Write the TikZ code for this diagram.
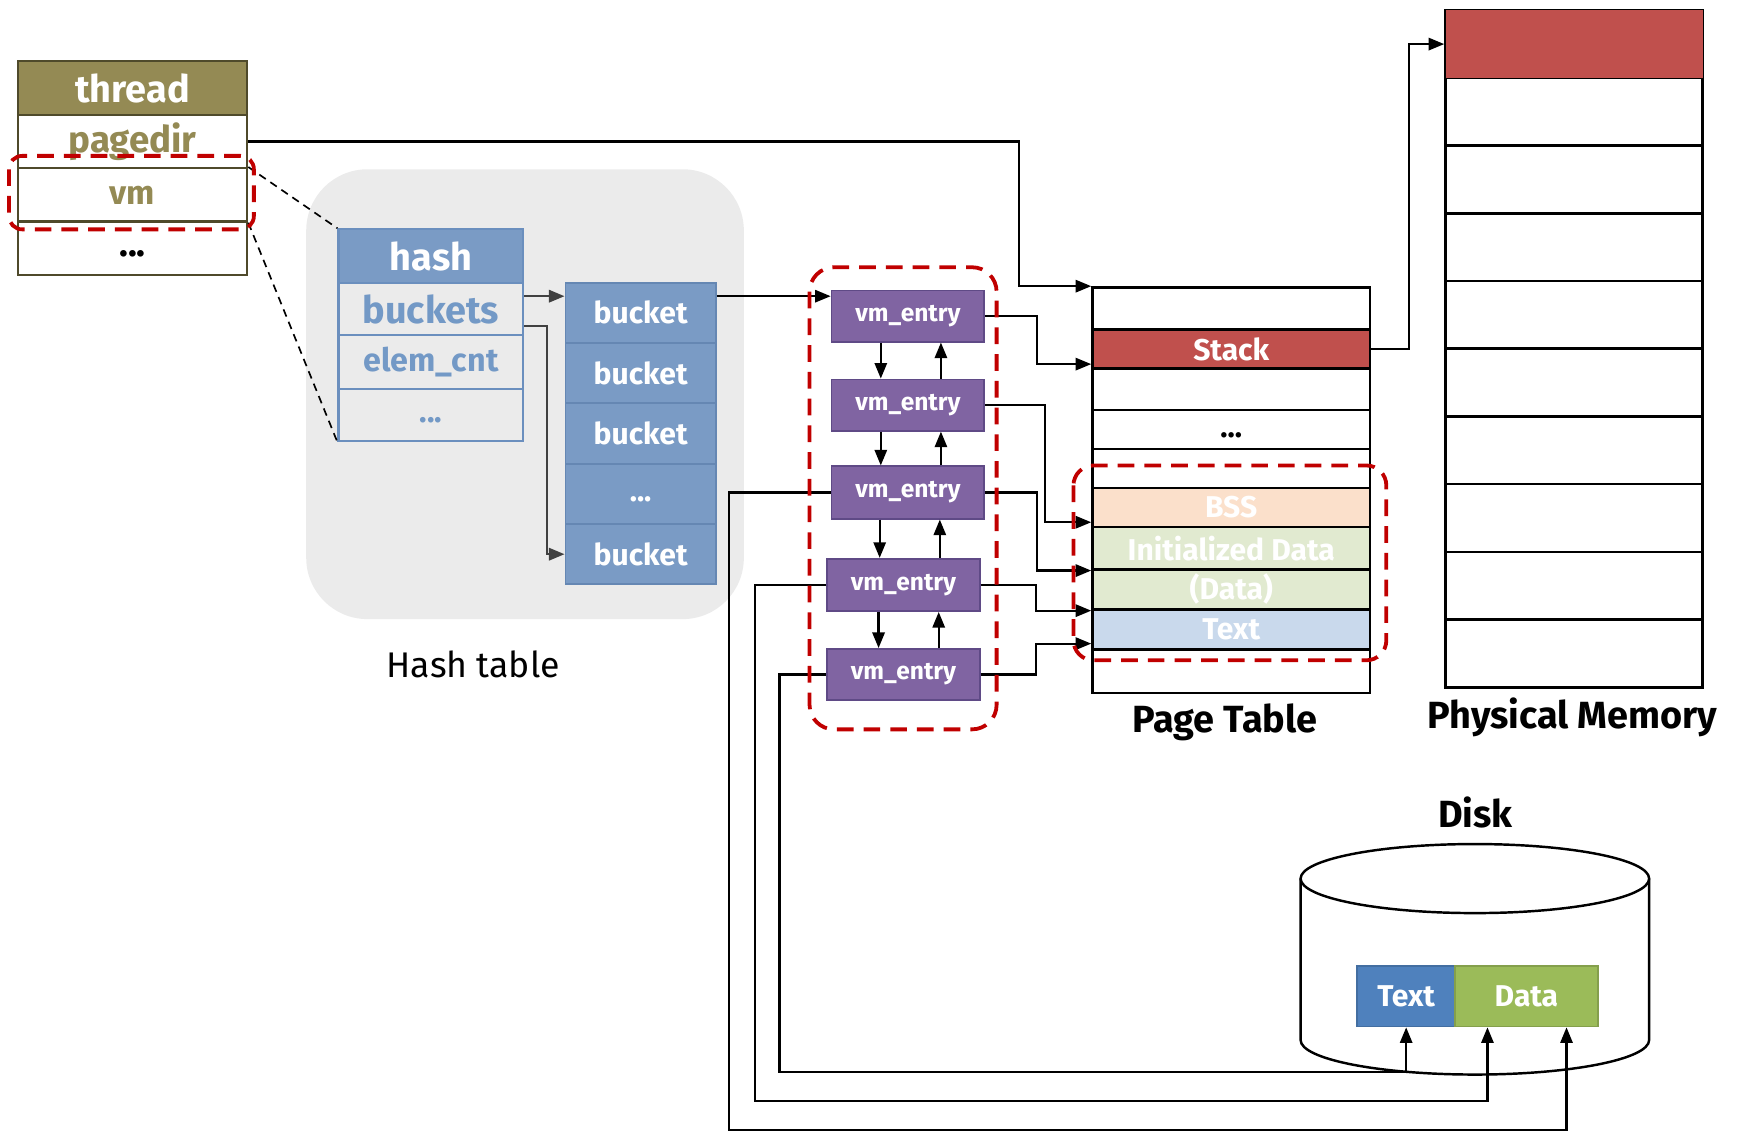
\documentclass[tikz,border=0pt]{standalone}
\usepackage{fontspec}
\setmainfont{Fira Sans}
\usetikzlibrary{arrows.meta}
\definecolor{thrOlive}{HTML}{948A54}
\definecolor{thrEdge}{HTML}{4F4A2B}
\definecolor{hashFill}{HTML}{7A9BC5}
\definecolor{hashEdge}{HTML}{6B8FBE}
\definecolor{hashInk}{HTML}{7399C6}
\definecolor{bucketEdge}{HTML}{6587B3}
\definecolor{vmFill}{HTML}{8064A2}
\definecolor{vmEdge}{HTML}{5F4A86}
\definecolor{stackRed}{HTML}{C0504D}
\definecolor{bssFill}{HTML}{FBE0CB}
\definecolor{dataFill}{HTML}{E1EAD0}
\definecolor{textFill}{HTML}{C9D9EC}
\definecolor{diskText}{HTML}{4F81BD}
\definecolor{diskData}{HTML}{9BBB59}
\definecolor{panelGray}{HTML}{EBEBEB}
\definecolor{hiRed}{HTML}{C00000}
\newcommand{\fs}[1]{\fontsize{#1}{#1}\selectfont}
\begin{document}
\begin{tikzpicture}[x=1pt,y=-1pt,
  box/.style={draw, inner sep=0pt, anchor=north west},
  dots/.style={text height=14pt, text depth=0pt},
  thrcell/.style={box, draw=thrEdge, line width=2pt, fill=white, minimum width=206pt, minimum height=48pt, text=thrOlive, font=\fs{33}\bfseries},
  hashcell/.style={box, draw=hashEdge, line width=2pt, fill=panelGray, minimum width=166pt, text=hashInk, font=\fs{32}\bfseries},
  bucketcell/.style={box, draw=bucketEdge, line width=1.6pt, fill=hashFill, minimum width=135pt, minimum height=54.2pt, text=white, font=\fs{27}\bfseries},
  vmcell/.style={box, draw=vmEdge, line width=1.6pt, fill=vmFill, minimum width=137pt, text=white, font=\fs{22}\bfseries},
  ptcell/.style={box, draw=black, line width=2.4pt, fill=white, minimum width=249pt, text=white, font=\fs{27}\bfseries},
  pmcell/.style={box, draw=black, line width=2.4pt, fill=white, minimum width=231pt, minimum height=60.8pt},
  arr/.style={-{Triangle[length=14pt,width=11pt]}, line width=2pt, draw=black},
  harr/.style={-{Triangle[length=14pt,width=11pt]}, line width=2.2pt, draw=black!75},
  hilite/.style={draw=hiRed, line width=3.4pt, dash pattern=on 15pt off 9pt},
  zoomline/.style={draw=black, line width=1.5pt, dash pattern=on 7pt off 5pt},
  caption/.style={font=\fs{32}, text=black},
  captionb/.style={font=\fs{34}\bfseries, text=black}
]
\useasboundingbox (0,0) rectangle (1568,1016);

% hash table backdrop
\fill[panelGray, rounded corners=55pt] (275,152) rectangle (668,556);

% thread structure
\node[thrcell, fill=thrOlive, text=white, font=\fs{34}\bfseries] (thread) at (15,54) {thread};
\node[thrcell] (pagedir) at (15,102) {pagedir};
\node[thrcell, font=\fs{30}\bfseries] (vm) at (15,150) {vm};
\node[thrcell, text=black, dots] (thrdots) at (15,198) {...};

% hash structure
\node[hashcell, fill=hashFill, text=white, minimum height=48pt, font=\fs{34}\bfseries] (hash) at (303,205) {hash};
\node[hashcell, minimum height=47pt, font=\fs{34}\bfseries] (buckets) at (303,253) {buckets};
\node[hashcell, minimum height=48pt, font=\fs{29}\bfseries] (elemcnt) at (303,300) {elem\_cnt};
\node[hashcell, minimum height=47pt, font=\fs{28}\bfseries, dots] (hashdots) at (303,348) {...};

% zoom lines from vm to hash
\draw[zoomline] (vm.north east) -- (hash.north west);
\draw[zoomline] (vm.south east) -- (hashdots.south west);

% bucket array
\node[bucketcell] (b1) at (507,253) {bucket};
\node[bucketcell] (b2) at (507,307.2) {bucket};
\node[bucketcell] (b3) at (507,361.4) {bucket};
\node[bucketcell, dots] (b4) at (507,415.6) {...};
\node[bucketcell] (b5) at (507,469.8) {bucket};

\draw[harr] (buckets.east |- 0,266) -- (b1.west |- 0,266);
\draw[harr] (buckets.east |- 0,293) -- ++(20,0) |- (b5.west);

% vm entries
\node[vmcell, minimum height=46pt] (vm1) at (746,260) {vm\_entry};
\node[vmcell, minimum height=46pt] (vm2) at (746,340) {vm\_entry};
\node[vmcell, minimum height=47pt] (vm3) at (746,418) {vm\_entry};
\node[vmcell, minimum height=47pt] (vm4) at (742,501) {vm\_entry};
\node[vmcell, minimum height=46pt] (vm5) at (742,582) {vm\_entry};

\draw[arr] (b1.east |- 0,266) -- (vm1.west |- 0,266);

\draw[arr] (vm1.south -| 791,0) -- (vm2.north -| 791,0);
\draw[arr] (vm2.north -| 845,0) -- (vm1.south -| 845,0);
\draw[arr] (vm2.south -| 791,0) -- (vm3.north -| 791,0);
\draw[arr] (vm3.north -| 845,0) -- (vm2.south -| 845,0);
\draw[arr] (vm3.south -| 790,0) -- (vm4.north -| 790,0);
\draw[arr] (vm4.north -| 844,0) -- (vm3.south -| 844,0);
\draw[arr] (vm4.south -| 789,0) -- (vm5.north -| 789,0);
\draw[arr] (vm5.north -| 843,0) -- (vm4.south -| 843,0);

% page table
\node[ptcell, minimum height=38pt] (pt0) at (980,257) {};
\node[ptcell, minimum height=35pt, fill=stackRed] (stack) at (980,295) {Stack};
\node[ptcell, minimum height=37pt] (pt2) at (980,330) {};
\node[ptcell, minimum height=35pt, text=black, text height=15pt, text depth=0pt] (ptdots) at (980,367) {...};
\node[ptcell, minimum height=35pt] (pt4) at (980,402) {};
\node[ptcell, minimum height=35pt, fill=bssFill] (bss) at (980,437) {BSS};
\node[ptcell, minimum height=38pt, fill=dataFill] (idata) at (980,472) {Initialized Data};
\node[ptcell, minimum height=36pt, fill=dataFill] (data) at (980,510) {(Data)};
\node[ptcell, minimum height=36pt, fill=textFill] (ptext) at (980,546) {Text};
\node[ptcell, minimum height=39pt] (ptlast) at (980,582) {};

% physical memory
\foreach \i in {1,...,10} {
  \node[pmcell] (pm\i) at (1297,{8+(\i-1)*60.8}) {};
}
\fill[stackRed] ([shift={(1.2pt,-1.2pt)}]pm1.north west) rectangle ([shift={(-1.2pt,1.2pt)}]pm1.south east);

% mappings into the page table
\draw[arr] (pagedir.east) -- ++(692,0) |- (pt0.north west);
\draw[arr] (vm1.east) -- ++(47,0) |- (stack.west |- 0,327);
\draw[arr] (vm2.east) -- ++(54,0) |- (bss.west |- 0,469);
\draw[arr] (vm3.east) -- ++(47,0) |- (idata.south west);
\draw[arr] (vm4.east) -- ++(50,0) |- (data.south west);
\draw[arr] (vm5.east) -- ++(50,0) |- (ptext.west |- 0,578);

% stack page to a physical frame
\draw[arr] (stack.east) -- ++(34,0) |- (pm1.west);

% disk
\filldraw[fill=white, draw=black, line width=2.2pt]
  (1168,789) -- (1168,934) arc[start angle=180, end angle=360, x radius=156.5pt, y radius=31pt] -- (1481,789);
\draw[line width=2.2pt, fill=white] (1324.5,789) ellipse [x radius=156.5pt, y radius=31pt];
\node[box, draw=diskText!85!black, line width=1.6pt, fill=diskText, minimum width=88pt, minimum height=54pt, text=white, font=\fs{27}\bfseries] (dtext) at (1218,867) {Text};
\node[box, draw=diskData!85!black, line width=1.6pt, fill=diskData, minimum width=128pt, minimum height=54pt, text=white, font=\fs{27}\bfseries] (ddata) at (1306,867) {Data};

\draw[arr] (vm5.west) -- ++(-42,0) -- (700,963) -| (dtext.south);
\draw[arr] (vm4.west) -- ++(-64,0) -- (678,989) -| ([xshift=-35pt]ddata.south);
\draw[arr] (vm3.west) -- ++(-91,0) -- (655,1015) -| ([xshift=36pt]ddata.south);

% highlighted regions
\draw[hilite, rounded corners=12pt] (8,140) rectangle (228,206);
\draw[hilite, rounded corners=22pt] (727,240) rectangle (895,655);
\draw[hilite, rounded corners=18pt] (964,418) rectangle (1245,593);

% captions
\node[caption] (hashlabel) at (425,597) {Hash table};
\node[captionb] (ptlabel) at (1100,649) {Page Table};
\node[captionb] (pmlabel) at (1412,644) {Physical Memory};
\node[captionb] (disklabel) at (1325,730) {Disk};
\end{tikzpicture}
\end{document}
